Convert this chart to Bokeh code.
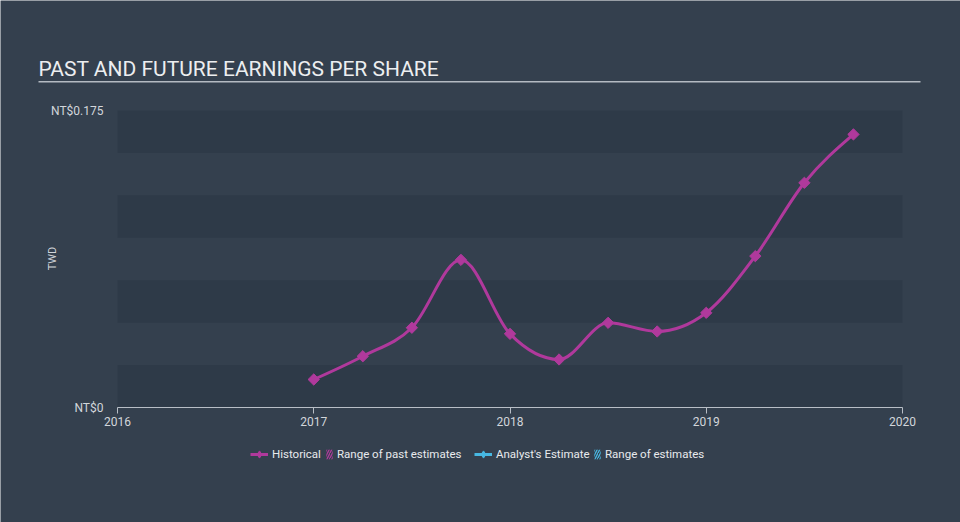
import math
from bokeh.plotting import figure
from bokeh.models import (Range1d, FixedTicker, Label, BoxAnnotation, Legend, LegendItem,
                          CustomJSTickFormatter, LinearAxis)
from bokeh.embed import file_html
from bokeh.resources import INLINE

# ---------------- data ----------------
periods = [2017.0, 2017.25, 2017.5, 2017.75, 2018.0, 2018.25, 2018.5, 2018.75,
           2019.0, 2019.25, 2019.5, 2019.75]
eps_ntd = [0.0165, 0.0302, 0.0470, 0.0870, 0.0434, 0.0283, 0.0499, 0.0448,
           0.0558, 0.0892, 0.1324, 0.1609]
x_ticks = [2016, 2017, 2018, 2019, 2020]
y_ticks = [0, 0.175]
band_step = 0.025

TITLE = "PAST AND FUTURE EARNINGS PER SHARE"
Y_LABEL = "TWD"

# ---------------- style / layout ----------------
W, H = 960, 522
PLOT_L, PLOT_R, PLOT_T, PLOT_B = 117, 902, 110, 407   # pixel box of the chart area
BG = "#34404e"
BAND = "#2e3a48"
MAGENTA = "#b0399c"
CYAN = "#47b8e2"
TXT = "#d2d6db"
AXIS = "#b8bec6"
FONT = "Roboto"
NAN = float("nan")
LEGEND_Y = 454


def monotone_segments(xs, ys):
    """Monotone cubic (Fritsch-Carlson / d3 monotoneX) as bezier segments."""
    n = len(xs)
    h = [xs[i + 1] - xs[i] for i in range(n - 1)]
    s = [(ys[i + 1] - ys[i]) / h[i] for i in range(n - 1)]
    t = [0.0] * n
    for i in range(1, n - 1):
        s0, s1 = s[i - 1], s[i]
        p = (s0 * h[i] + s1 * h[i - 1]) / (h[i - 1] + h[i])
        sg = (math.copysign(1, s0) if s0 else 0) + (math.copysign(1, s1) if s1 else 0)
        t[i] = sg * min(abs(s0), abs(s1), 0.5 * abs(p)) if sg else 0.0
    t[0] = (3 * s[0] - t[1]) / 2
    t[-1] = (3 * s[-1] - t[-2]) / 2
    seg = dict(x0=[], y0=[], x1=[], y1=[], cx0=[], cy0=[], cx1=[], cy1=[])
    for i in range(n - 1):
        d = h[i] / 3
        seg["x0"].append(xs[i]); seg["y0"].append(ys[i])
        seg["x1"].append(xs[i + 1]); seg["y1"].append(ys[i + 1])
        seg["cx0"].append(xs[i] + d); seg["cy0"].append(ys[i] + t[i] * d)
        seg["cx1"].append(xs[i + 1] - d); seg["cy1"].append(ys[i + 1] - t[i + 1] * d)
    return seg


# ranges chosen so the chart area lands on PLOT_* while the frame fills the canvas
xs_px = (PLOT_R - PLOT_L) / (x_ticks[-1] - x_ticks[0])
ys_px = (PLOT_B - PLOT_T) / (y_ticks[-1] - y_ticks[0])
x_range = Range1d(x_ticks[0] - PLOT_L / xs_px, x_ticks[-1] + (W - PLOT_R) / xs_px)
y_range = Range1d(y_ticks[0] - (H - PLOT_B) / ys_px, y_ticks[-1] + PLOT_T / ys_px)

p = figure(width=W, height=H, output_backend="svg", toolbar_location=None,
           x_range=x_range, y_range=y_range, x_axis_location=None, y_axis_location=None,
           min_border=0)
p.background_fill_color = BG
p.border_fill_color = BG
p.outline_line_color = None
p.grid.visible = False

# alternating bands
b = y_ticks[0]
k = 0
while b < y_ticks[-1] - 1e-9:
    if k % 2 == 0:
        p.add_layout(BoxAnnotation(left=x_ticks[0], right=x_ticks[-1], bottom=b,
                                   top=b + band_step, fill_color=BAND,
                                   fill_alpha=1, line_alpha=0, level="underlay"))
    b += band_step
    k += 1

# x axis
xa = LinearAxis(fixed_location=y_ticks[0], bounds=(x_ticks[0], x_ticks[-1]))
xa.ticker = FixedTicker(ticks=x_ticks)
xa.axis_line_color = AXIS
xa.major_tick_line_color = AXIS
xa.major_tick_out = 6
xa.major_tick_in = 0
xa.minor_tick_line_color = None
xa.major_label_text_color = TXT
xa.major_label_text_font = FONT
xa.major_label_text_font_size = "12px"
xa.major_label_standoff = 3
p.add_layout(xa, "below")

# y axis
ya = LinearAxis(fixed_location=x_ticks[0])
ya.ticker = FixedTicker(ticks=y_ticks)
ya.formatter = CustomJSTickFormatter(code="return tick == 0 ? 'NT$0' : 'NT$' + tick.toFixed(3);")
ya.axis_line_color = None
ya.major_tick_line_color = None
ya.minor_tick_line_color = None
ya.major_tick_out = 0
ya.major_label_standoff = 14
ya.major_label_text_color = TXT
ya.major_label_text_font = FONT
ya.major_label_text_font_size = "12px"
p.add_layout(ya, "left")

p.add_layout(Label(x=52, y=H - 258, x_units="screen", y_units="screen", text=Y_LABEL,
                   angle=math.pi / 2, text_align="center", text_baseline="middle",
                   text_color=TXT, text_font=FONT, text_font_size="11px"))

# title + underline
p.add_layout(Label(x=38, y=H - 68, x_units="screen", y_units="screen", text=TITLE,
                   text_baseline="middle", text_color="#eceef0", text_font=FONT,
                   text_font_size="21px"))
p.add_layout(BoxAnnotation(left=38, right=920, bottom=H - 82, top=H - 80.5,
                           left_units="screen", right_units="screen",
                           bottom_units="screen", top_units="screen",
                           fill_color="#b4bac2", fill_alpha=1, line_alpha=0))

# historical curve
seg = monotone_segments(periods, eps_ntd)
p.bezier(x0="x0", y0="y0", x1="x1", y1="y1", cx0="cx0", cy0="cy0", cx1="cx1", cy1="cy1",
         source=seg, line_color=MAGENTA, line_width=3)
p.scatter(periods, eps_ntd, marker="square", angle=math.pi / 4, size=8,
          fill_color=MAGENTA, line_color=MAGENTA)

# legend glyphs (renderers without visible data)
h_line = p.line([NAN], [NAN], line_color=MAGENTA, line_width=3)
h_mark = p.scatter([NAN], [NAN], marker="diamond", size=14,
                   fill_color=MAGENTA, line_color=MAGENTA)
h_range = p.quad(left=[NAN], right=[NAN], bottom=[NAN], top=[NAN], fill_alpha=0,
                 line_alpha=0, hatch_pattern="/", hatch_color=MAGENTA, hatch_scale=5,
                 hatch_weight=1.3)
a_line = p.line([NAN], [NAN], line_color=CYAN, line_width=3)
a_mark = p.scatter([NAN], [NAN], marker="diamond", size=14,
                   fill_color=CYAN, line_color=CYAN)
a_range = p.quad(left=[NAN], right=[NAN], bottom=[NAN], top=[NAN], fill_alpha=0,
                 line_alpha=0, hatch_pattern="/", hatch_color=CYAN, hatch_scale=5,
                 hatch_weight=1.3)

# (label, renderers, left pixel, glyph width, glyph height)
entries = [
    ("Historical", [h_line, h_mark], 250, 18, 22),
    ("Range of past estimates", [h_range], 325, 8, 12),
    ("Analyst's Estimate", [a_line, a_mark], 474, 18, 22),
    ("Range of estimates", [a_range], 593, 8, 12),
]
for label, rends, lx, gw, gh in entries:
    hh = max(gh, 14)
    lg = Legend(items=[LegendItem(label=label, renderers=rends)],
                location=(lx, H - (LEGEND_Y + hh / 2)),
                orientation="horizontal", glyph_width=gw, glyph_height=gh,
                label_standoff=4, padding=0, margin=0, spacing=0,
                border_line_alpha=0, background_fill_alpha=0,
                label_text_color="#e8eaed", label_text_font=FONT,
                label_text_font_size="11.5px", label_height=12)
    p.add_layout(lg)

open("out.html", "w").write(file_html(p, INLINE))
